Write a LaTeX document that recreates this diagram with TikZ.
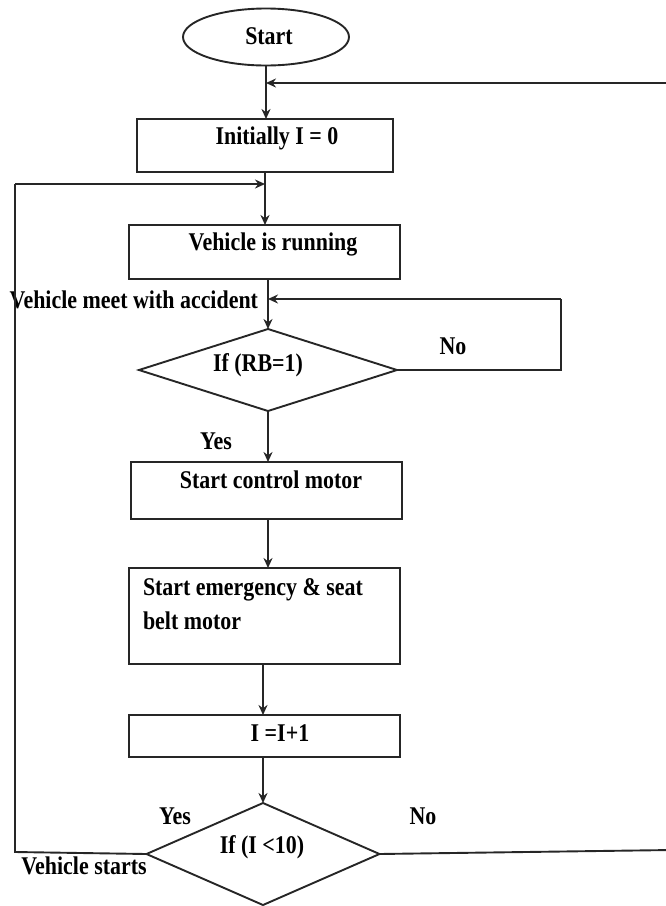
\documentclass[tikz,border=0pt]{standalone}
\usepackage{fontspec}
\setmainfont{Liberation Serif}[FakeStretch=0.86]
\usetikzlibrary{shapes.geometric,arrows.meta}
\definecolor{ln}{HTML}{262626}
\begin{document}
\begin{tikzpicture}[x=1pt,y=1pt,
  every node/.style={outer sep=0pt},
  box/.style={draw=ln,line width=1.9pt,rectangle,inner sep=0pt},
  dia/.style={draw=ln,line width=1.9pt,diamond,inner sep=0pt},
  txt/.style={font=\fontsize{25.5}{28}\selectfont\bfseries,inner sep=0pt,text=black},
  con/.style={draw=ln,line width=1.9pt},
  arr/.style={con,-{Stealth[length=10pt,width=9pt]}}]
\useasboundingbox (0,0) rectangle (665,-906);
% shapes
\node[draw=ln,line width=1.9pt,ellipse,minimum width=166pt,minimum height=57pt,inner sep=0pt] (start) at (266,-37) {};
\node[txt] (tstart) at (269,-36) {Start};
\node[box,minimum width=256pt,minimum height=53pt] (init) at (265,-145.5) {};
\node[txt] (tinit) at (277,-138) {Initially I = 0};
\node[box,minimum width=271pt,minimum height=54pt] (run) at (264.5,-252) {};
\node[txt] (trun) at (273,-244) {Vehicle is running};
\node[dia,minimum width=258pt,minimum height=82pt] (d1) at (268,-370) {};
\node[txt] (td1) at (258,-365) {If (RB=1)};
\node[box,minimum width=271pt,minimum height=57pt] (ctrl) at (266.5,-490.5) {};
\node[txt] (tctrl) at (271,-480) {Start control motor};
\node[box,minimum width=271pt,minimum height=96pt] (emer) at (264.5,-616) {};
\node[txt,anchor=west] (temer1) at (143,-590) {Start emergency \& seat};
\node[txt,anchor=west] (temer2) at (143,-621) {belt motor};
\node[box,minimum width=271pt,minimum height=42pt] (inc) at (264.5,-736) {};
\node[txt] (tinc) at (280,-733) {I =I+1};
\node[dia,minimum width=233pt,minimum height=102pt] (d2) at (263,-854) {};
\node[txt] (td2) at (262,-847) {If (I <10)};
% labels
\node[txt] (no1) at (453,-346) {No};
\node[txt] (yes1) at (216,-441) {Yes};
\node[txt] (yes2) at (175,-816) {Yes};
\node[txt] (no2) at (423,-816) {No};
\node[txt] (vstart) at (84,-866) {Vehicle starts};
\node[txt,anchor=east] (vacc) at (258,-300) {Vehicle meet with accident};
% junction coordinates
\coordinate (j1) at (start.south |- 0,-83);
\coordinate (j2) at (init.south |- 0,-184);
\coordinate (j3) at (d1.north |- 0,-299);
\coordinate (r1) at (672,-83);
\coordinate (r2) at (672,-850);
\coordinate (l1) at (15,-852);
\coordinate (l2) at (15,-184);
\coordinate (n1) at (561,-370);
\coordinate (n2) at (561,-299);
% connectors
\draw[arr] (start.south) -- (start.south |- init.north);
\draw[arr] (r1) -- (j1);
\draw[arr] (init.south) -- (init.south |- run.north);
\draw[con] (d2.west) -- (l1) -- (l2);
\draw[arr] (l2) -- (j2);
\draw[arr] (d1.north |- run.south) -- (d1.north);
\draw[con] (d1.east) -- (n1) -- (n2);
\draw[arr] (n2) -- (j3);
\draw[arr] (d1.south) -- (d1.south |- ctrl.north);
\draw[arr] (d1.south |- ctrl.south) -- (d1.south |- emer.north);
\draw[arr] (d2.north |- emer.south) -- (d2.north |- inc.north);
\draw[arr] (inc.south -| d2.north) -- (d2.north);
\draw[con] (d2.east) -- (r2) -- (r1);
\end{tikzpicture}
\end{document}
